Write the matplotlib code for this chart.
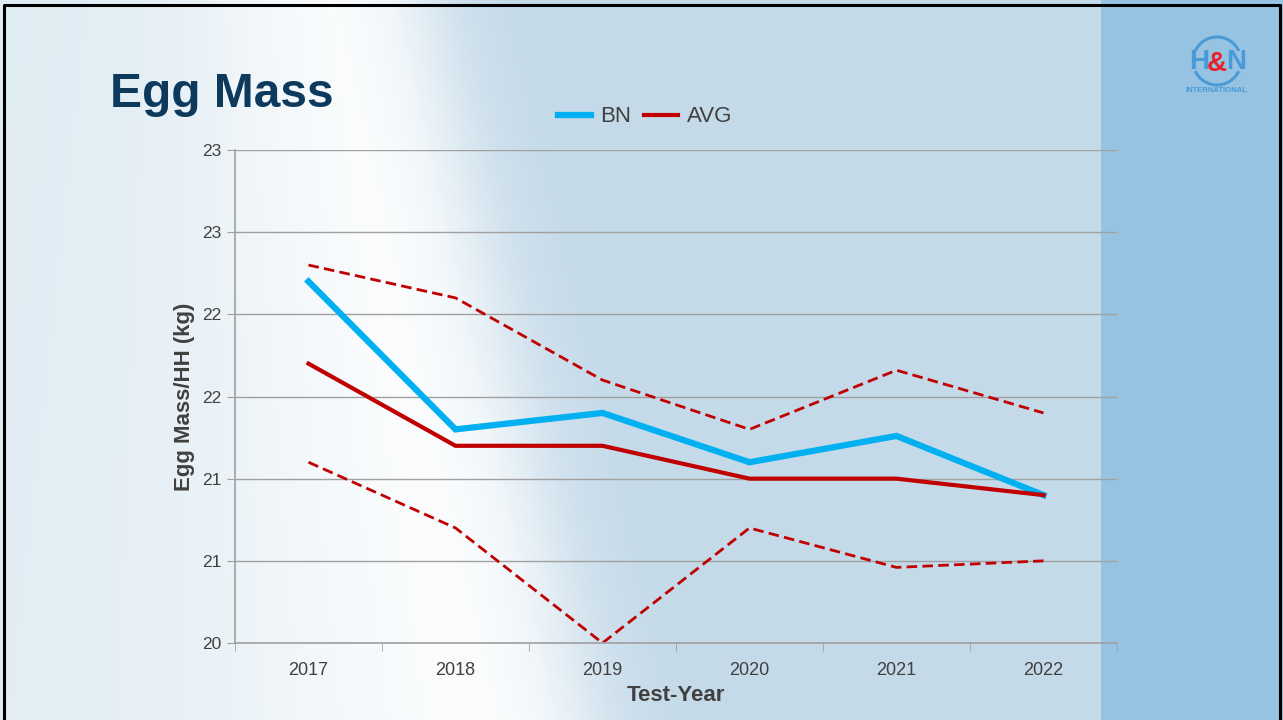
import numpy as np
import matplotlib.pyplot as plt
from matplotlib.patches import Rectangle, Arc

plt.rcParams['font.family'] = ['Liberation Sans', 'DejaVu Sans']

# DATA
years = ["2017", "2018", "2019", "2020", "2021", "2022"]
bn = [22.2, 21.3, 21.4, 21.1, 21.26, 20.9]
avg = [21.7, 21.2, 21.2, 21.0, 21.0, 20.9]
upper = [22.3, 22.1, 21.6, 21.3, 21.66, 21.4]
lower = [21.1, 20.7, 20.0, 20.7, 20.46, 20.5]
y_ticks = [20, 20.5, 21, 21.5, 22, 22.5, 23]
y_tick_labels = ["20", "21", "21", "22", "22", "23", "23"]

W, H = 1283, 720
fig = plt.figure(figsize=(W / 100, H / 100), dpi=100)

# BACKGROUND (slide look)
bg = fig.add_axes([0, 0, 1, 1], zorder=-10)
X, Y = np.meshgrid(np.arange(W), np.arange(H))
edge = 415 + 0.22 * Y
right_col = np.array([0.77, 0.855, 0.915])
left_col = np.array([0.88, 0.925, 0.955])
s = 1 / (1 + np.exp(-(edge - X) / 30.0))
glow = np.exp(-((X - (edge - 50)) / (170 + 0.2 * Y)) ** 2)
img = right_col * (1 - s[..., None]) + left_col * s[..., None]
img = img + (1 - img) * (glow * s * 0.9)[..., None]
bg.imshow(img, extent=(0, W, H, 0), aspect='auto', interpolation='bilinear')
bg.set_xlim(0, W)
bg.set_ylim(H, 0)
bg.axis('off')
bg.add_patch(Rectangle((1101, 0), W - 1101, H, color='#95c3e1', lw=0))
# frame
bg.plot([4, 4, 1280, 1280], [H, 5, 5, H], color='black', lw=2.2)

# logo
bg.add_patch(Arc((1217, 61), 48, 48, theta1=205, theta2=335, color='#4a9ad8', lw=2.2))
bg.add_patch(Arc((1217, 61), 48, 48, theta1=25, theta2=155, color='#4a9ad8', lw=2.2))
fig.text(1199 / W, 1 - 62 / H, "H", color='#4a9ad8', fontsize=20, fontweight='bold',
         ha='center', va='center')
fig.text(1217 / W, 1 - 64 / H, "&", color='#e8202a', fontsize=20, fontweight='bold',
         ha='center', va='center')
fig.text(1236 / W, 1 - 62 / H, "N", color='#4a9ad8', fontsize=20, fontweight='bold',
         ha='center', va='center')
fig.text(1217 / W, 1 - 91 / H, "INTERNATIONAL", color='#4a9ad8', fontsize=5.6,
         fontweight='bold', ha='center', va='center')

# title
fig.text(110 / W, 1 - 107 / H, "Egg Mass", color='#0d3a5c', fontsize=34.5,
         fontweight='bold', ha='left', va='baseline')

# CHART
ax = fig.add_axes([235 / W, 77 / H, 882 / W, 493 / H])
ax.patch.set_alpha(0)
x = np.arange(len(years))

ax.plot(x, upper, color='#c00000', lw=2, dashes=(3.8, 1.9))
ax.plot(x, lower, color='#c00000', lw=2, dashes=(3.8, 1.9))
ax.plot(x, bn, color='#00b0f0', lw=4.5, label='BN', solid_joinstyle='miter')
ax.plot(x, avg, color='#c00000', lw=3, label='AVG', solid_joinstyle='miter')

ax.set_xlim(-0.5, len(years) - 0.5)
ax.set_ylim(20, 23)
ax.set_yticks(y_ticks)
ax.set_yticklabels(y_tick_labels)
ax.set_xticks(x)
ax.set_xticklabels(years)
ax.set_xticks(np.arange(-0.5, len(years)), minor=True)
ax.tick_params(axis='x', which='major', length=0, pad=14, labelsize=13, labelcolor='#404040')
ax.tick_params(axis='x', which='minor', length=6, color='#a0a0a0', direction='out')
ax.tick_params(axis='y', length=6, color='#a0a0a0', labelsize=12.5, labelcolor='#404040', pad=4)
ax.grid(axis='y', color='#a0a0a0', lw=1)
ax.set_axisbelow(True)
for sp in ['top', 'right']:
    ax.spines[sp].set_visible(False)
for sp in ['left', 'bottom']:
    ax.spines[sp].set_color('#a0a0a0')
    ax.spines[sp].set_linewidth(1.2)

ax.set_xlabel("Test-Year", fontsize=16, fontweight='bold', color='#404040', labelpad=4)
ax.set_ylabel("Egg Mass/HH (kg)", fontsize=16, fontweight='bold', color='#404040', labelpad=5)

fig.legend(loc='center', bbox_to_anchor=(645 / W, 1 - 117 / H), ncol=2, frameon=False,
           fontsize=16, handlelength=1.5, columnspacing=0.6, handletextpad=0.4,
           labelcolor='#404040')

fig.savefig("out.png", dpi=100)
